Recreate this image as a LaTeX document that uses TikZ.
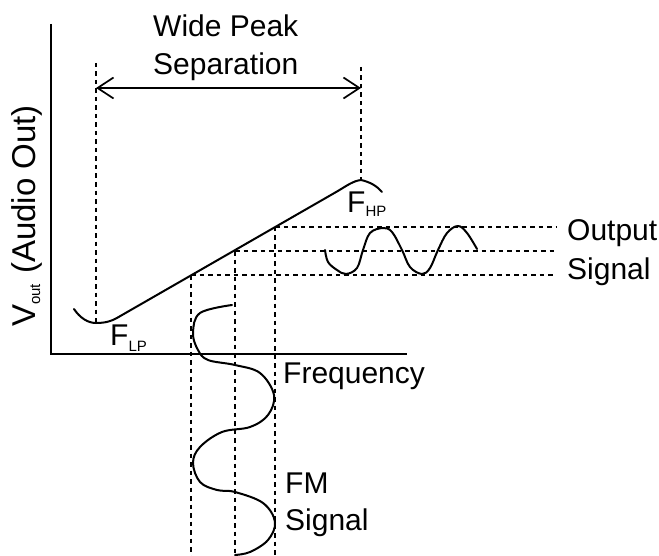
\documentclass[tikz,border=0pt]{standalone}
\usepackage{fontspec}
\setmainfont{Liberation Sans}
\usetikzlibrary{arrows.meta}
\tikzset{
  curve/.style={line width=2bp, line join=round, line cap=round},
  axisline/.style={line width=2bp},
  guide/.style={line width=1.7bp, dash pattern=on 4.5bp off 4bp},
  lbl/.style={inner sep=0pt, font=\fontsize{30bp}{36bp}\selectfont, anchor=base west},
}
\newcommand{\subtxt}[2]{\raisebox{-#1bp}{\fontsize{15bp}{15bp}\selectfont #2}}
\begin{document}
\begin{tikzpicture}[x=1bp,y=-1bp]
\useasboundingbox (0,0) rectangle (659,556);
% axes
\coordinate (yTop) at (51,24);
\coordinate (orig) at (51,354);
\coordinate (xEnd) at (407,354);
\draw[axisline] (yTop) -- (orig) -- (xEnd);
% peak guides
\coordinate (lpTop) at (96,63);
\coordinate (lpMin) at (96,323);
\coordinate (hpTop) at (361,67);
\coordinate (hpPk) at (361,180);
\draw[guide] (lpTop) -- (lpMin);
\draw[guide] (hpTop) -- (hpPk);
\coordinate (arL) at (96,88);
\coordinate (arR) at (361,88);
\draw[line width=1.7bp, {Straight Barb[length=16bp,width=21bp,line width=1.7bp]}-{Straight Barb[length=16bp,width=21bp,line width=1.7bp]}] (arL) -- (arR);
% response curve
\draw[curve] (74,309) .. controls (80,318) and (88,323) .. (lpMin)
  .. controls (106,323) and (111,321) .. (116,318.5)
  -- (337,191.5) .. controls (348,185) and (353,181) .. (hpPk)
  .. controls (370,182) and (377,186) .. (382,192);
% operating points
\coordinate (pA) at (191,275);
\coordinate (pB) at (235,251);
\coordinate (pC) at (275,227);
\coordinate (eA) at (556,275);
\coordinate (eB) at (556,251);
\coordinate (eC) at (556,227);
\coordinate (bA) at (191,556);
\coordinate (bB) at (235,556);
\coordinate (bC) at (275,556);
\draw[guide] (pA) -- (eA);
\draw[guide] (pB) -- (eB);
\draw[guide] (pC) -- (eC);
\draw[guide] (pA) -- (bA);
\draw[guide] (pB) -- (bB);
\draw[guide] (pC) -- (bC);
% output signal
\draw[curve] plot[smooth, tension=0.6] coordinates {
 (325,250) (328,262) (337,270) (346,274) (357,268) (363,250) (370,233) (383,228)
 (392,232) (402,250) (410,267) (422,274) (430,268) (438,250) (447,233) (458,226)
 (467,233) (477,249)};
% FM signal
\draw[curve] plot[smooth, tension=0.6] coordinates {
 (232,305) (200,313) (193,333) (198,350) (208,360) (235,365) (260,373) (274,395)
 (268,415) (250,427) (222,432) (200,447) (193,463) (200,482) (217,490) (235,492)
 (263,503) (275,522) (268,540) (250,552) (235,555)};
% labels
\node[lbl] (wide) at (153,37) {Wide Peak};
\node[lbl] (sep) at (153,75) {Separation};
\node[lbl] (flp) at (110,345) {F\subtxt{6}{LP}};
\node[lbl] (fhp) at (347,213) {F\subtxt{4}{HP}};
\node[lbl] (out1) at (567,241) {Output};
\node[lbl] (out2) at (567,279) {Signal};
\node[lbl] (freq) at (283,383) {Frequency};
\node[lbl] (fm1) at (285,493) {FM};
\node[lbl] (fm2) at (285,530) {Signal};
\node[lbl, rotate=90, font=\fontsize{33bp}{36bp}\selectfont] (vout) at (35,327) {V\subtxt{5}{out}\hspace{10bp}(Audio Out)};
\end{tikzpicture}
\end{document}
